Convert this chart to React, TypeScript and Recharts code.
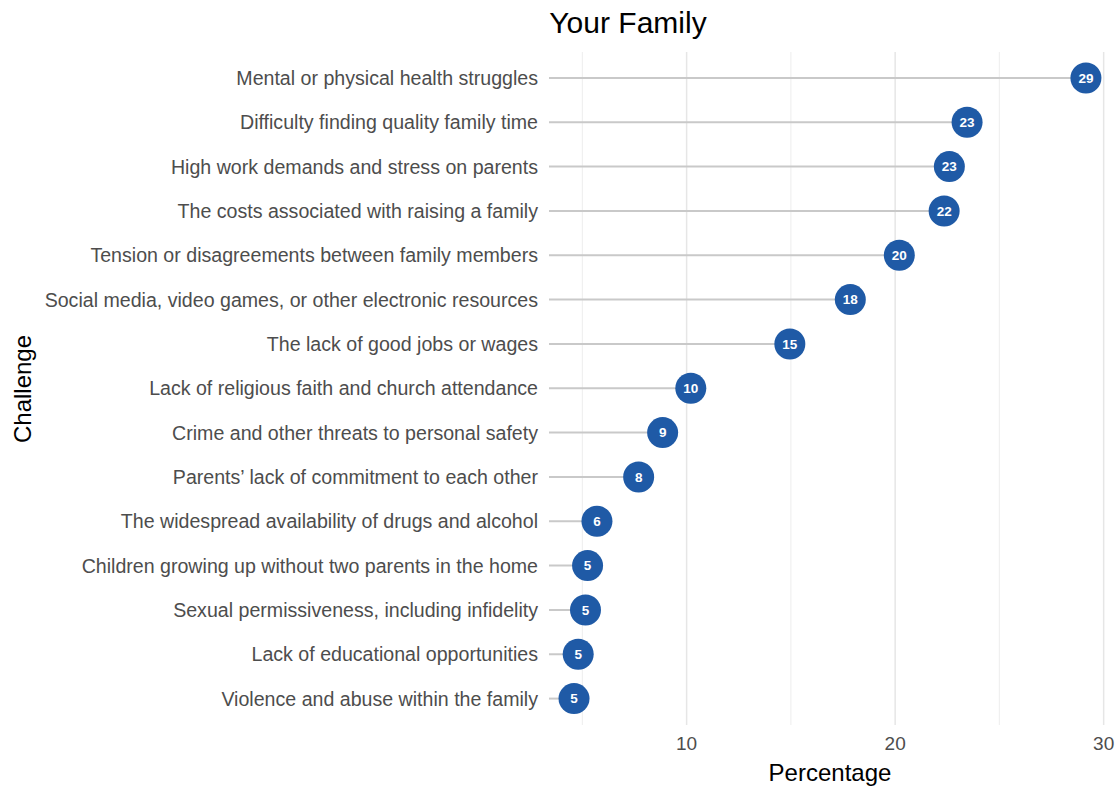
import React from "react";
import {
  ComposedChart,
  Bar,
  XAxis,
  YAxis,
  CartesianGrid,
  Customized,
} from "recharts";

const categories = [
  "Mental or physical health struggles",
  "Difficulty finding quality family time",
  "High work demands and stress on parents",
  "The costs associated with raising a family",
  "Tension or disagreements between family members",
  "Social media, video games, or other electronic resources",
  "The lack of good jobs or wages",
  "Lack of religious faith and church attendance",
  "Crime and other threats to personal safety",
  "Parents\u2019 lack of commitment to each other",
  "The widespread availability of drugs and alcohol",
  "Children growing up without two parents in the home",
  "Sexual permissiveness, including infidelity",
  "Lack of educational opportunities",
  "Violence and abuse within the family",
];

const values = [29.15, 23.45, 22.6, 22.35, 20.2, 17.85, 14.95, 10.2, 8.85, 7.7, 5.7, 5.25, 5.15, 4.8, 4.6];

const pointLabels = ["29", "23", "23", "22", "20", "18", "15", "10", "9", "8", "6", "5", "5", "5", "5"];

const majorTicks = [10, 20, 30];
const minorTicks = [5, 15, 25];
const xDomain = [3.4, 30.4];

const data = categories.map((c, i) => ({ challenge: c, pct: values[i], label: pointLabels[i] }));

const FONT = "'Liberation Sans', Arial, Helvetica, sans-serif";
const DOT = "#1F5AA6";

const Lollipop = (props: any) => {
  const { x, y, width, height, payload } = props;
  const cy = y + height / 2;
  const ex = x + width;
  return (
    <g>
      <line x1={x} y1={cy} x2={ex} y2={cy} stroke="#C9C9C9" strokeWidth={2} />
      <circle cx={ex} cy={cy} r={15.5} fill={DOT} />
      <text
        x={ex}
        y={cy}
        dy="0.36em"
        textAnchor="middle"
        fill="#ffffff"
        fontFamily={FONT}
        fontWeight="bold"
        fontSize={13.5}
      >
        {payload.label}
      </text>
    </g>
  );
};

const makeGen = (vals: number[]) => (p: any) => {
  const xa = p && p.xAxis;
  if (xa && typeof xa.scale === "function") {
    return vals.map((v) => xa.scale(v));
  }
  const off = p.offset;
  return vals.map((v) => off.left + ((v - xDomain[0]) / (xDomain[1] - xDomain[0])) * off.width);
};

const Titles = () => (
  <g>
    <text x={628} y={22} dy="0.36em" textAnchor="middle" fontFamily={FONT} fontSize={30} fill="#000">
      Your Family
    </text>
    <text
      x={22}
      y={389}
      dy="0.36em"
      textAnchor="middle"
      transform="rotate(-90 22 389)"
      fontFamily={FONT}
      fontSize={24}
      fill="#000"
    >
      Challenge
    </text>
    <text x={830} y={772} dy="0.36em" textAnchor="middle" fontFamily={FONT} fontSize={24} fill="#000">
      Percentage
    </text>
  </g>
);

export default function App() {
  return (
    <div style={{ position: "absolute", left: 0, top: 0, background: "#fff" }}>
      <ComposedChart
        width={1117}
        height={786}
        data={data}
        layout="vertical"
        margin={{ top: 52, right: 5, bottom: 0, left: 0 }}
      >
        <CartesianGrid
          horizontal={false}
          stroke="#F0F0F0"
          strokeWidth={1.2}
          verticalCoordinatesGenerator={makeGen(minorTicks)}
        />
        <CartesianGrid
          horizontal={false}
          stroke="#E6E6E6"
          strokeWidth={1.5}
          verticalCoordinatesGenerator={makeGen(majorTicks)}
        />
        <XAxis
          type="number"
          dataKey="pct"
          domain={xDomain}
          ticks={majorTicks}
          allowDataOverflow
          axisLine={false}
          tickLine={false}
          tickSize={0}
          tickMargin={12}
          height={61}
          tick={{ fill: "#4D4D4D", fontSize: 19, fontFamily: FONT }}
        />
        <YAxis
          type="category"
          dataKey="challenge"
          width={549}
          axisLine={false}
          tickLine={false}
          tickSize={0}
          tickMargin={11}
          interval={0}
          padding={{ top: 4, bottom: 4 }}
          tick={{ fill: "#4D4D4D", fontSize: 19.6, fontFamily: FONT }}
        />
        <Bar dataKey="pct" shape={<Lollipop />} isAnimationActive={false} />
        <Customized component={Titles} />
      </ComposedChart>
    </div>
  );
}
